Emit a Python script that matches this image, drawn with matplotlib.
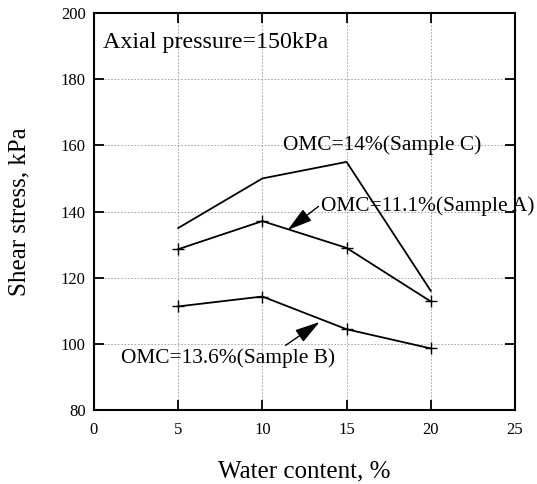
import matplotlib.pyplot as plt

plt.rcParams["font.family"] = ["Liberation Serif", "DejaVu Serif"]

water = [5, 10, 15, 20]
sample_c = [135, 150, 155, 116]
sample_a = [128.6, 137.1, 129.0, 112.8]
sample_b = [111.3, 114.3, 104.4, 98.6]

x_ticks = [0, 5, 10, 15, 20, 25]
y_ticks = [80, 100, 120, 140, 160, 180, 200]

fig = plt.figure(figsize=(5.37, 4.84), dpi=100)
ax = fig.add_axes([0.175, 0.153, 0.784, 0.82])

ax.plot(water, sample_c, color="black", lw=1.3)
ax.plot(water, sample_a, color="black", lw=1.3, marker="+", ms=8.5, mew=1)
ax.plot(water, sample_b, color="black", lw=1.3, marker="+", ms=8.5, mew=1)

ax.set_xlim(0, 25)
ax.set_ylim(80, 200)
ax.set_xticks(x_ticks)
ax.set_yticks(y_ticks)
ax.grid(True, linestyle=(0, (2, 2)), color="#999999", linewidth=0.6)
ax.tick_params(direction="in", length=7, width=1.3, top=True, right=True,
               labelsize=12)
ax.tick_params(axis="x", pad=9)
ax.tick_params(axis="y", pad=6)
for s in ax.spines.values():
    s.set_linewidth(1.5)

ax.set_xlabel("Water content, %", fontsize=18, labelpad=16)
ax.set_ylabel("Shear stress, kPa", fontsize=18, labelpad=22)

ax.text(0.55, 191, "Axial pressure=150kPa", fontsize=17.3, va="center", ha="left")
ax.text(11.2, 160.2, "OMC=14%(Sample C)", fontsize=15.4, va="center", ha="left")

arrow = dict(arrowstyle="-|>,head_length=0.7,head_width=0.2", color="black",
             lw=1.0, mutation_scale=22, shrinkA=0, shrinkB=0)
ax.annotate("OMC=11.1%(Sample A)", xy=(11.5, 134.4), xytext=(13.5, 141.6),
            fontsize=15.4, va="center", ha="left",
            arrowprops=dict(arrow, relpos=(0.0, 0.6)))
ax.annotate("OMC=13.6%(Sample B)", xy=(13.4, 106.6), xytext=(1.6, 95.7),
            fontsize=15.4, va="center", ha="left",
            arrowprops=dict(arrow, relpos=(0.75, 1.0)))

fig.savefig("out.png", dpi=100)
